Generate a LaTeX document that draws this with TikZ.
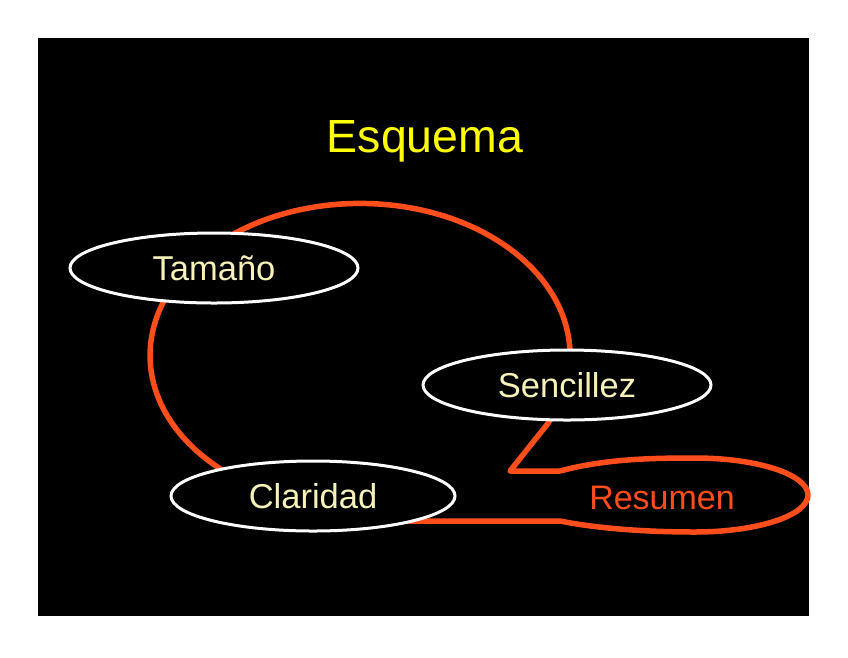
\documentclass[tikz,border=0pt]{standalone}
\usepackage{fontspec}
\setmainfont{Liberation Sans}
\usepackage{tikz}
\usetikzlibrary{shapes.geometric}
\definecolor{cbub}{HTML}{FF4D1C}
\definecolor{ctext}{HTML}{F6F2B8}
\definecolor{ctitle}{HTML}{FFFF00}
\tikzset{
  topic/.style={ellipse, draw=white, line width=3pt, fill=black, minimum width=288pt, minimum height=70pt, inner sep=0pt, text=ctext, font=\fontsize{34.5}{38}\selectfont},
  bubble/.style={draw=cbub, line width=5.5pt, line join=round, fill=black},
  titlet/.style={text=ctitle, font=\fontsize{46.5}{50}\selectfont, anchor=base, inner sep=0pt},
}
\begin{document}
\begin{tikzpicture}[x=1pt,y=-1pt]
\useasboundingbox (0,0) rectangle (848,657);
\fill[black] (38,38) rectangle (809,616);
\node[titlet] (esquema) at (425,152) {Esquema};
% the red bubble with its tail into Resumen
\draw[bubble] (510,471) -- (560,471) .. controls (605,459) and (650,458) .. (695,458)
  arc (-90:90:113 and 37) .. controls (650,532) and (600,529) .. (560,521) -- (395,521)
  .. controls (330,521) and (253,494) .. (209,461) arc (136:387:210 and 152) -- cycle;
\node[text=cbub, font=\fontsize{34}{36}\selectfont, inner sep=0pt] (resumen) at (662,498) {Resumen};
\node[topic] (tamano) at (214,268) {Tamaño};
\node[topic] (sencillez) at (567,385) {Sencillez};
\node[topic, minimum width=284pt] (claridad) at (313,496) {Claridad};
\end{tikzpicture}
\end{document}
